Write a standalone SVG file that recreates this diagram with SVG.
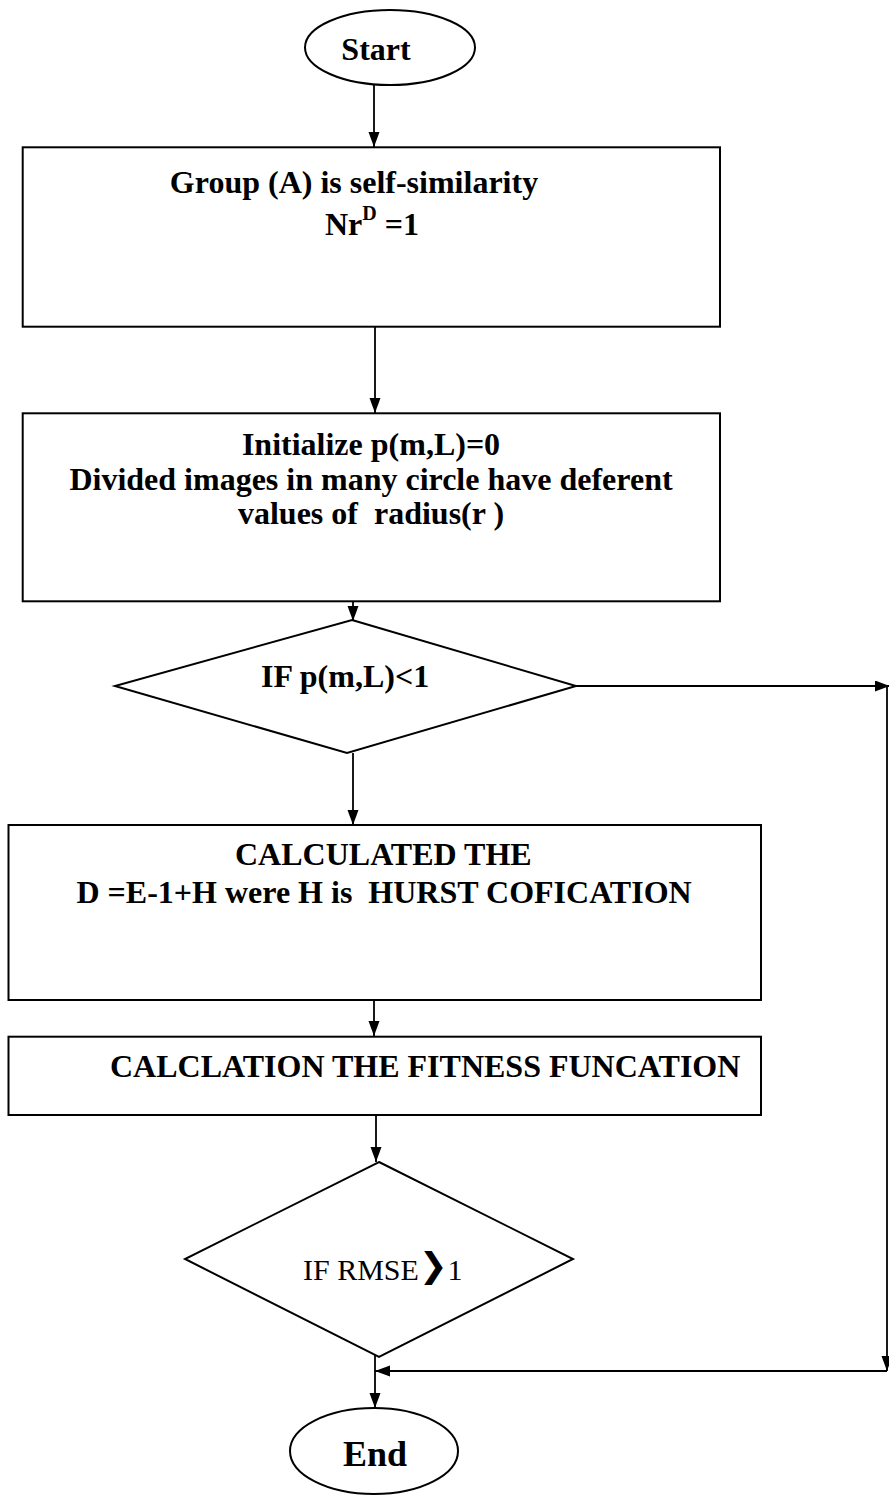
<svg xmlns="http://www.w3.org/2000/svg" width="889" height="1495" viewBox="0 0 889 1495">
  <style>
    .shape { fill: #ffffff; stroke: #000000; stroke-width: 2; }
    .conn { fill: none; stroke: #000000; stroke-width: 1.8; }
    .t { font-family: "Liberation Serif", "Times New Roman", serif; font-weight: bold; font-size: 32px; fill: #000000; white-space: pre; }
    .tr { font-family: "Liberation Serif", "Times New Roman", serif; font-weight: normal; font-size: 30px; fill: #000000; white-space: pre; }
  </style>
  <defs>
    <marker id="arrow" markerUnits="userSpaceOnUse" markerWidth="16" markerHeight="12" refX="15" refY="5.5" orient="auto">
      <path d="M0,0 L15,5.5 L0,11 z" fill="#000000"/>
    </marker>
  </defs>
  <rect width="889" height="1495" fill="#ffffff"/>

  <g id="connectors">
    <line class="conn" x1="374" y1="85" x2="374" y2="147" marker-end="url(#arrow)"/>
    <line class="conn" x1="375" y1="327" x2="375" y2="413" marker-end="url(#arrow)"/>
    <line class="conn" x1="353" y1="601" x2="353" y2="621" marker-end="url(#arrow)"/>
    <line class="conn" x1="353" y1="753" x2="353" y2="825" marker-end="url(#arrow)"/>
    <line class="conn" x1="374" y1="996" x2="374" y2="1036" marker-end="url(#arrow)"/>
    <line class="conn" x1="376" y1="1115" x2="376" y2="1162" marker-end="url(#arrow)"/>
    <line class="conn" x1="375" y1="1347" x2="375" y2="1408" marker-end="url(#arrow)"/>
    <line class="conn" x1="576" y1="686" x2="890" y2="686" marker-end="url(#arrow)"/>
    <line class="conn" x1="887" y1="686" x2="887" y2="1371" marker-end="url(#arrow)"/>
    <line class="conn" x1="887" y1="1371" x2="375" y2="1371" marker-end="url(#arrow)"/>
  </g>

  <g id="start">
    <ellipse class="shape" cx="390" cy="47.5" rx="85" ry="37.5"/>
    <text class="t" x="376" y="60" text-anchor="middle">Start</text>
  </g>

  <g id="group-a">
    <rect class="shape" x="22.7" y="147.3" width="697.3" height="179.4"/>
    <text class="t" x="354" y="193" text-anchor="middle">Group (A) is self-similarity</text>
    <text class="t" x="372" y="235" text-anchor="middle">Nr<tspan font-size="20" dy="-15">D</tspan><tspan dy="15"> =1</tspan></text>
  </g>

  <g id="initialize">
    <rect class="shape" x="22.7" y="413.3" width="697.3" height="188"/>
    <text class="t" x="371" y="455" text-anchor="middle">Initialize p(m,L)=0</text>
    <text class="t" x="371" y="490" text-anchor="middle">Divided images in many circle have deferent</text>
    <text class="t" x="371" y="524" text-anchor="middle">values of  radius(r )</text>
  </g>

  <g id="decision-p">
    <polygon class="shape" points="352,620 576,686 347,753 115,686"/>
    <text class="t" x="261" y="687">IF p(m,L)&lt;1</text>
  </g>

  <g id="calculated">
    <rect class="shape" x="8.5" y="825" width="752.5" height="175"/>
    <text class="t" x="235" y="865">CALCULATED THE</text>
    <text class="t" x="76.5" y="903">D =E-1+H were H is  HURST COFICATION</text>
  </g>

  <g id="fitness">
    <rect class="shape" x="8.5" y="1036.7" width="752.5" height="78.3"/>
    <text class="t" x="110" y="1077">CALCLATION THE FITNESS FUNCATION</text>
  </g>

  <g id="decision-rmse">
    <polygon class="shape" points="379,1162 573,1259 379,1357 185,1259"/>
    <text class="tr" x="303" y="1280">IF RMSE<tspan font-family="DejaVu Sans, sans-serif" font-weight="bold" font-size="34" dy="-3">❯</tspan><tspan dy="3">1</tspan></text>
  </g>

  <g id="end">
    <ellipse class="shape" cx="374" cy="1451" rx="84" ry="43"/>
    <text class="t" x="375" y="1466" text-anchor="middle" style="font-size:36px">End</text>
  </g>
</svg>
